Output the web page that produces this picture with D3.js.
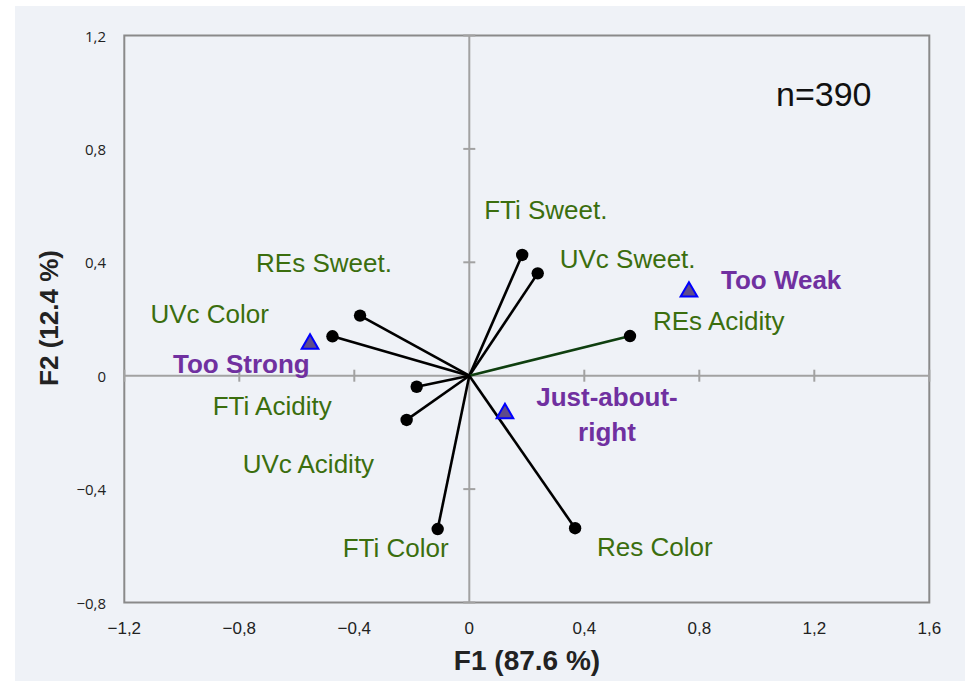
<!DOCTYPE html>
<html>
<head>
<meta charset="utf-8">
<script src="https://cdn.jsdelivr.net/npm/d3@7"></script>
<style>
  html, body { margin: 0; padding: 0; background: #ffffff; }
  svg { display: block; }
</style>
</head>
<body>
<svg id="chart" width="965" height="681"></svg>
<script>
// Variable loadings on the first two factors (F1, F2)
const variables = ["FTi Sweet.", "UVc Sweet.", "REs Acidity", "REs Sweet.", "UVc Color",
                   "FTi Acidity", "UVc Acidity", "FTi Color", "Res Color"];
const f1Loadings = [0.184, 0.238, 0.559, -0.380, -0.476, -0.183, -0.218, -0.110, 0.368];
const f2Loadings = [0.426, 0.361, 0.140, 0.212, 0.139, -0.039, -0.156, -0.541, -0.538];

// Supplementary JAR categories
const categories = ["Too Strong", "Too Weak", "Just-about-right"];
const catF1 = [-0.554, 0.764, 0.124];
const catF2 = [0.112, 0.296, -0.133];

// Axis ticks
const xTicks = [-1.2, -0.8, -0.4, 0, 0.4, 0.8, 1.2, 1.6];
const yTicks = [-0.8, -0.4, 0, 0.4, 0.8, 1.2];
const xTitle = "F1 (87.6 %)";
const yTitle = "F2 (12.4 %)";
const sampleNote = "n=390";

// Label placement (pixel offsets from each mark)
const varLabelOffsets = [[-38, -36], [22, -5], [23, -6], [-104, -44], [-182, -13],
                         [-204, 28], [-164, 53], [-95, 28], [22, 28]];
const catLabelOffsets = [[-137, 29], [32, -3], [102, -7]];

const svg = d3.select("#chart");
const W = 965, H = 681;
const plot = { left: 124.3, right: 929.3, top: 35.5, bottom: 602.5 };

const x = d3.scaleLinear().domain([-1.2, 1.6]).range([plot.left, plot.right]);
const y = d3.scaleLinear().domain([-0.8, 1.2]).range([plot.bottom, plot.top]);

const green = "#3b6e0e";
const purple = "#7030a0";
const fmt = v => (v === 0 ? "0" : d3.format(".1f")(v).replace(".", ","));

// Panel background
svg.append("rect").attr("x", 15).attr("y", 6).attr("width", W - 15).attr("height", H - 6)
  .attr("fill", "#eff2f7");

// Plot frame
svg.append("rect")
  .attr("x", plot.left).attr("y", plot.top)
  .attr("width", plot.right - plot.left).attr("height", plot.bottom - plot.top)
  .attr("fill", "none").attr("stroke", "#8a8a8a").attr("stroke-width", 2);

// Zero axes with cross ticks
const axisG = svg.append("g").attr("stroke", "#a2a2a2").attr("stroke-width", 2);
axisG.append("line").attr("x1", plot.left).attr("x2", plot.right)
  .attr("y1", y(0)).attr("y2", y(0));
axisG.append("line").attr("x1", x(0)).attr("x2", x(0))
  .attr("y1", plot.top).attr("y2", plot.bottom);
axisG.selectAll(".xt").data(xTicks.filter(d => d !== 0)).join("line")
  .attr("x1", d => x(d)).attr("x2", d => x(d))
  .attr("y1", y(0) - 6).attr("y2", y(0) + 6);
axisG.selectAll(".yt").data(yTicks.filter(d => d !== 0)).join("line")
  .attr("x1", x(0) - 6).attr("x2", x(0) + 6)
  .attr("y1", d => y(d)).attr("y2", d => y(d));

// Tick labels
svg.append("g").selectAll("text").data(xTicks).join("text")
  .attr("x", d => x(d)).attr("y", 628)
  .attr("text-anchor", "middle").attr("dominant-baseline", "central")
  .attr("font-family", "'Liberation Sans Narrow', 'Liberation Sans', Arial, sans-serif")
  .attr("font-size", 17).attr("fill", "#222")
  .text(fmt);

svg.append("g").selectAll("text").data(yTicks).join("text")
  .attr("x", 106).attr("y", d => y(d))
  .attr("text-anchor", "end").attr("dominant-baseline", "central")
  .attr("font-family", "'Open Sans', sans-serif")
  .attr("font-size", 15).attr("fill", "#222")
  .text(fmt);

// Axis titles
svg.append("text").attr("x", 527).attr("y", 670)
  .attr("text-anchor", "middle")
  .attr("font-family", "'Liberation Sans Narrow', 'Liberation Sans', Arial, sans-serif")
  .attr("font-weight", "bold").attr("font-size", 28).attr("fill", "#222")
  .text(xTitle);

svg.append("text")
  .attr("transform", "translate(58,318) rotate(-90)")
  .attr("text-anchor", "middle")
  .attr("font-family", "'Liberation Sans', Arial, sans-serif")
  .attr("font-weight", "bold").attr("font-size", 26).attr("fill", "#222")
  .text(yTitle);

// Sample size note
svg.append("text").attr("x", 776).attr("y", 106)
  .attr("font-family", "'Liberation Sans Narrow', 'Liberation Sans', Arial, sans-serif")
  .attr("font-size", 34).attr("fill", "#111")
  .text(sampleNote);

// Loading vectors
const vars = variables.map((name, i) => ({ name, f1: f1Loadings[i], f2: f2Loadings[i], off: varLabelOffsets[i] }));

svg.append("g").selectAll("line").data(vars).join("line")
  .attr("x1", x(0)).attr("y1", y(0))
  .attr("x2", d => x(d.f1)).attr("y2", d => y(d.f2))
  .attr("stroke", d => d.name === "REs Acidity" ? "#0f3f0f" : "#000")
  .attr("stroke-width", 2.6);

svg.append("g").selectAll("circle").data(vars).join("circle")
  .attr("cx", d => x(d.f1)).attr("cy", d => y(d.f2)).attr("r", 6.2)
  .attr("fill", "#000");

svg.append("g").selectAll("text").data(vars).join("text")
  .attr("x", d => x(d.f1) + d.off[0]).attr("y", d => y(d.f2) + d.off[1])
  .attr("font-family", "'Liberation Sans', Arial, sans-serif")
  .attr("font-size", 26).attr("fill", green)
  .text(d => d.name);

// Category markers
const cats = categories.map((name, i) => ({ name, f1: catF1[i], f2: catF2[i], off: catLabelOffsets[i] }));

svg.append("g").selectAll("path").data(cats).join("path")
  .attr("transform", d => `translate(${x(d.f1)},${y(d.f2)})`)
  .attr("d", d3.symbol(d3.symbolTriangle).size(120)())
  .attr("fill", "#5f4b8b").attr("stroke", "#0000ff").attr("stroke-width", 2);

const catText = svg.append("g").selectAll("text").data(cats).join("text")
  .attr("font-family", "'Liberation Sans', Arial, sans-serif")
  .attr("font-weight", "bold").attr("font-size", 26).attr("fill", purple)
  .attr("text-anchor", d => d.name === "Just-about-right" ? "middle" : "start")
  .attr("x", d => x(d.f1) + d.off[0]).attr("y", d => y(d.f2) + d.off[1]);

catText.each(function (d) {
  const t = d3.select(this);
  if (d.name === "Just-about-right") {
    t.append("tspan").attr("x", x(d.f1) + d.off[0]).text("Just-about-");
    t.append("tspan").attr("x", x(d.f1) + d.off[0]).attr("dy", 35).text("right");
  } else {
    t.text(d.name);
  }
});
</script>
</body>
</html>
